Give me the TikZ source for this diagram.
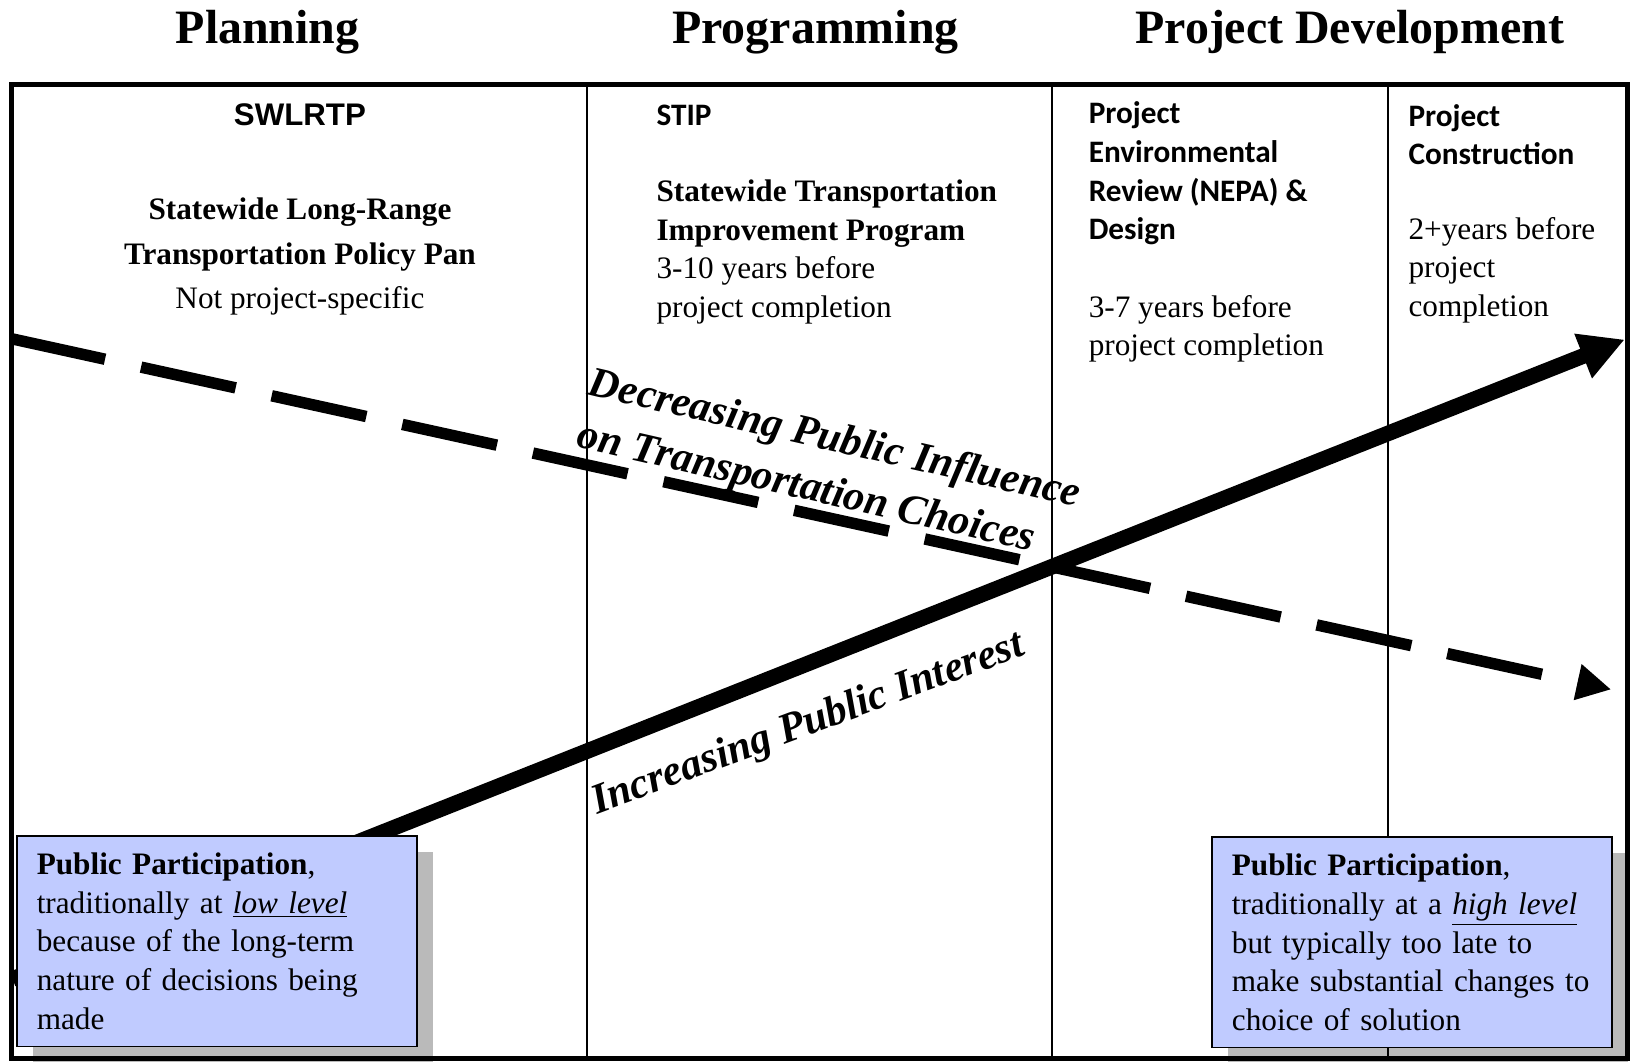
\documentclass[tikz,border=0pt]{standalone}
\usepackage{fontspec}
\setmainfont{Liberation Serif}
\newfontfamily\calibrifont{Carlito}
\newfontfamily\arialfont{Liberation Sans}
\usetikzlibrary{arrows.meta, shadows, positioning}
\definecolor{boxBlue}{RGB}{192,203,255}
\tikzset{
    phaseHead/.style={anchor=base, inner sep=0pt, font=\fontsize{23}{27}\selectfont\bfseries},
    stageHead/.style={anchor=base west, align=left, inner sep=0pt, font=\calibrifont\fontsize{15}{18.5}\selectfont\bfseries},
    stageText/.style={anchor=base west, align=left, inner sep=0pt, font=\fontsize{15}{18.5}\selectfont},
    trendText/.style={anchor=base west, inner sep=0pt, font=\fontsize{20.4}{24}\selectfont\bfseries\itshape},
    partBox/.style={draw, line width=0.8pt, fill=boxBlue, anchor=north west, align=left, text width=173pt, inner xsep=9.5pt, inner ysep=0pt, minimum height=101pt, font=\fontsize{15}{18.5}\selectfont, drop shadow={shadow xshift=7.5pt, shadow yshift=-7.5pt, fill=black, opacity=0.27}},
    interestArrow/.style={line width=7.5pt, -{Triangle[length=21.5pt, width=21.5pt]}},
    influenceArrow/.style={line width=5.5pt, dash pattern=on 46.5pt off 17.7pt, -{Triangle[length=16.5pt, width=16.5pt]}},
}

\begin{document}
\begin{tikzpicture}[x=0.5pt, y=-0.5pt]
    \useasboundingbox (0,0) rectangle (1567,1019);

    % phase headings
    \node[phaseHead] (planning) at (257,41.6) {Planning};
    \node[phaseHead] (programming) at (783,41.6) {Programming};
    \node[phaseHead] (projDev) at (1296,41.6) {Project Development};

    % frame and columns
    \draw[line width=2.5pt] (11,81) rectangle (1562.5,1016);
    \draw[line width=1pt] (564,81) -- (564,1016);
    \draw[line width=1pt] (1010,81) -- (1010,1016);
    \draw[line width=1pt] (1333,81) -- (1333,1016);

    % column texts (multi-line nodes sit on their last line)
    \node[anchor=base, inner sep=0pt, font=\arialfont\fontsize{15}{18.5}\selectfont\bfseries] (swlrtp) at (288,120.5) {SWLRTP};
    \node[anchor=base, align=center, inner sep=0pt, font=\fontsize{15}{21.5}\selectfont] (swlrtpText) at (288,296.5)
        {\textbf{Statewide Long-Range}\\\textbf{Transportation Policy Pan}\\Not project-specific};

    \node[stageHead] (stip) at (630,120.5) {STIP};
    \node[stageText] (stipText) at (630,304.5)
        {\textbf{Statewide Transportation}\\\textbf{Improvement Program}\\3-10 years before\\project completion};

    \node[stageHead] (nepa) at (1045,230) {Project\\Environmental\\Review (NEPA) \&\\Design};
    \node[stageText] (nepaText) at (1045,341.5) {3-7 years before\\project completion};

    \node[stageHead] (constr) at (1352,158) {Project\\Construction};
    \node[stageText] (constrText) at (1352,303.5) {2+years before\\project\\completion};

    % trend arrows
    \coordinate (inflStart) at (10,325);
    \coordinate (inflEnd) at (1547,662);
    \coordinate (intStart) at (12,940);
    \coordinate (intEnd) at (1560,326);
    \draw[influenceArrow] (inflStart) -- (inflEnd);
    \draw[interestArrow] (intStart) -- (intEnd);

    \node[trendText, rotate=-12.9] (decrA) at (563,379) {Decreasing Public Influence};
    \node[trendText, rotate=-12.9] (decrB) at (552,429) {on Transportation Choices};
    \node[trendText, rotate=20.4] (incr) at (573,782) {Increasing Public Interest};

    % participation boxes
    \node[partBox] (ppLow) at (15.5,802)
        {\textbf{Public Participation},\\traditionally at \underline{\textit{low level}}\\because of the long-term\\nature of decisions being\\made};
    \node[partBox] (ppHigh) at (1163,803)
        {\textbf{Public Participation},\\traditionally at a \underline{\textit{high level}}\\but typically too late to\\make substantial changes to\\choice of solution};

\end{tikzpicture}
\end{document}
